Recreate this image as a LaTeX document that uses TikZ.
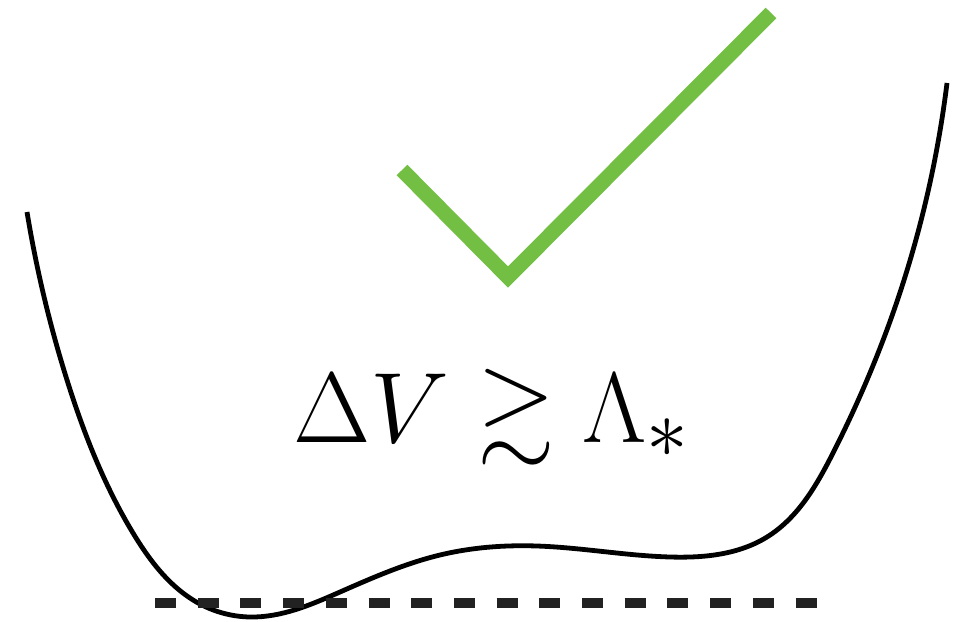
\documentclass[tikz,border=0pt]{standalone}
\usepackage{amssymb}
\usepackage{graphicx}
\usetikzlibrary{hobby}
\definecolor{checkgreen}{RGB}{114,191,68}
\definecolor{dashgray}{RGB}{34,34,34}
\tikzset{
  potential/.style={line width=4.8pt, black, use Hobby shortcut},
  floorline/.style={line width=10pt, dashgray, dash pattern=on 21pt off 21.7pt},
  checkmark/.style={line width=15pt, checkgreen, line join=miter},
}
\begin{document}
\begin{tikzpicture}[x=1pt,y=-1pt]
\useasboundingbox (0,0) rectangle (968,621);
% potential curve
\draw[potential] (27,212) .. (67,380) .. (133,533) .. (200,604) .. (250,617)
  .. (340,592) .. (440,555) .. (537,546) .. (670,557) .. (767,537)
  .. (833,453) .. (893,313) .. (947,83);
% dashed floor
\coordinate (fl) at (155,603);
\coordinate (fr) at (818,603);
\draw[floorline] (fl) -- (fr);
% check mark
\coordinate (c1) at (402,170);
\coordinate (c2) at (508,277);
\coordinate (c3) at (771,13);
\draw[checkmark] (c1) -- (c2) -- (c3);
% label
\node[anchor=base west, inner sep=0pt] (lbl) at (293,442)
  {\scalebox{4.02}{\Huge $\Delta V \gtrsim \Lambda_*$}};
\end{tikzpicture}
\end{document}
